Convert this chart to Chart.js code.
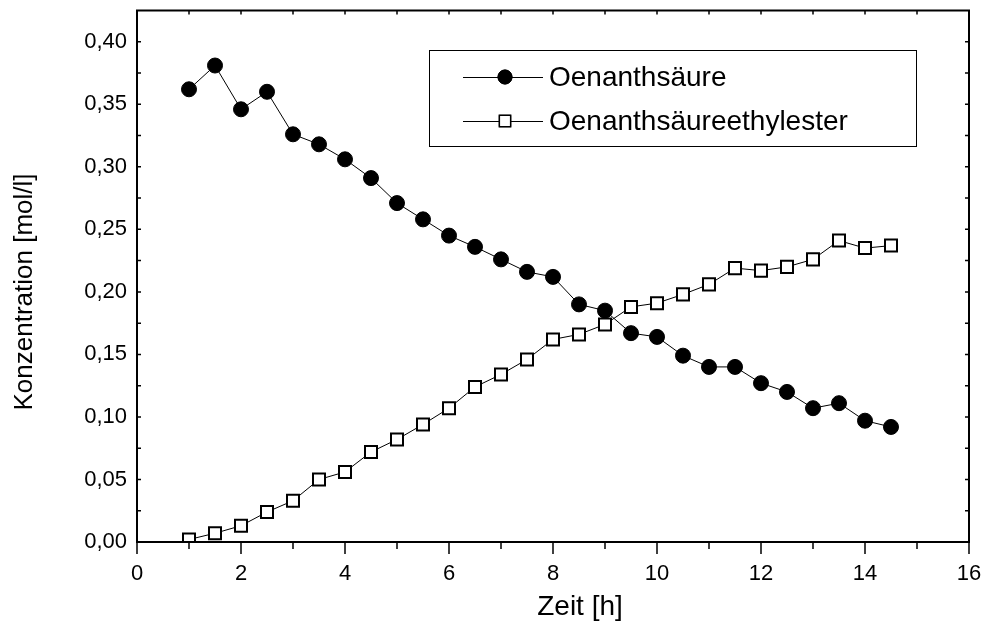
<!DOCTYPE html>
<html>
<head>
<meta charset="utf-8">
<script src="https://cdn.jsdelivr.net/npm/chart.js@4/dist/chart.umd.min.js"></script>
<style>
  html, body { margin: 0; padding: 0; background: #fff; }
  #wrap { width: 983px; height: 632px; }
</style>
</head>
<body>
<div id="wrap"><canvas id="c" width="983" height="632"></canvas></div>
<script>
// Time in hours
const zeit = [1, 1.5, 2, 2.5, 3, 3.5, 4, 4.5, 5, 5.5, 6, 6.5, 7, 7.5, 8, 8.5, 9, 9.5, 10, 10.5, 11, 11.5, 12, 12.5, 13, 13.5, 14, 14.5];
// Concentration of heptanoic acid [mol/l]
const oenanthsaeure = [0.362, 0.381, 0.346, 0.360, 0.326, 0.318, 0.306, 0.291, 0.271, 0.258, 0.245, 0.236, 0.226, 0.216, 0.212, 0.190, 0.185, 0.167, 0.164, 0.149, 0.140, 0.140, 0.127, 0.120, 0.107, 0.111, 0.097, 0.092];
// Concentration of ethyl heptanoate [mol/l]
const ester = [0.002, 0.007, 0.013, 0.024, 0.033, 0.050, 0.056, 0.072, 0.082, 0.094, 0.107, 0.124, 0.134, 0.146, 0.162, 0.166, 0.174, 0.188, 0.191, 0.198, 0.206, 0.219, 0.217, 0.220, 0.226, 0.241, 0.235, 0.237];

const seriesNames = ['Oenanthsäure', 'Oenanthsäureethylester'];
const xTitle = 'Zeit [h]';
const yTitle = 'Konzentration [mol/l]';
const xTicks = [0, 2, 4, 6, 8, 10, 12, 14, 16];
const xMinorTicks = [1, 3, 5, 7, 9, 11, 13, 15];
const yTicks = [0, 0.05, 0.10, 0.15, 0.20, 0.25, 0.30, 0.35, 0.40];
const yMinorTicks = [0.025, 0.075, 0.125, 0.175, 0.225, 0.275, 0.325, 0.375];

const FONT = 'Liberation Sans, Arial, sans-serif';

const toPoints = (xs, ys) => xs.map((x, i) => ({ x: x, y: ys[i] }));

// Frame, tick marks, axis titles and legend box
const framePlugin = {
  id: 'frame',
  afterDraw(chart) {
    const { ctx, chartArea: a, scales } = chart;
    const xs = scales.x, ys = scales.y;
    ctx.save();
    ctx.strokeStyle = '#000';
    ctx.lineWidth = 2;
    ctx.strokeRect(a.left, a.top, a.right - a.left, a.bottom - a.top);

    ctx.lineWidth = 1.5;
    ctx.beginPath();
    // bottom axis: outward ticks
    xTicks.forEach(v => { const p = xs.getPixelForValue(v); ctx.moveTo(p, a.bottom); ctx.lineTo(p, a.bottom + 12); });
    xMinorTicks.forEach(v => { const p = xs.getPixelForValue(v); ctx.moveTo(p, a.bottom); ctx.lineTo(p, a.bottom + 7); });
    // top axis: inward ticks
    xTicks.concat(xMinorTicks).forEach(v => { const p = xs.getPixelForValue(v); ctx.moveTo(p, a.top); ctx.lineTo(p, a.top + 4); });
    // left and right axes: inward ticks
    yTicks.concat(yMinorTicks).forEach(v => {
      const p = ys.getPixelForValue(v);
      ctx.moveTo(a.left, p); ctx.lineTo(a.left + 4, p);
      ctx.moveTo(a.right, p); ctx.lineTo(a.right - 4, p);
    });
    ctx.stroke();

    // axis titles
    ctx.fillStyle = '#000';
    ctx.textAlign = 'center';
    ctx.textBaseline = 'middle';
    ctx.font = '28px ' + FONT;
    ctx.fillText(xTitle, 580, 607);
    ctx.font = '26px ' + FONT;
    ctx.save();
    ctx.translate(25, 292);
    ctx.rotate(-Math.PI / 2);
    ctx.fillText(yTitle, 0, 0);
    ctx.restore();

    // legend
    const box = { l: 429, t: 50, r: 916, b: 146 };
    ctx.lineWidth = 1;
    ctx.strokeStyle = '#000';
    ctx.strokeRect(box.l + 0.5, box.t + 0.5, box.r - box.l, box.b - box.t);
    const rows = [77, 121];
    chart.data.datasets.forEach((ds, i) => {
      const y = rows[i];
      ctx.beginPath();
      ctx.strokeStyle = '#000';
      ctx.lineWidth = 1;
      ctx.moveTo(463, y + 0.5); ctx.lineTo(543, y + 0.5);
      ctx.stroke();
      Chart.helpers.drawPoint(ctx, {
        pointStyle: ds.pointStyle, radius: ds.pointStyle === 'rect' ? 8 : 7,
        borderWidth: ds.pointStyle === 'rect' ? 1.5 : 1, rotation: 0
      }, 505, y);
      ctx.fillStyle = ds.pointBackgroundColor;
      ctx.strokeStyle = '#000';
      ctx.lineWidth = ds.pointStyle === 'rect' ? 1.5 : 1;
      ctx.fill();
      ctx.stroke();
      ctx.fillStyle = '#000';
      ctx.font = '28px ' + FONT;
      ctx.textBaseline = 'middle';
      ctx.textAlign = 'left';
      ctx.fillText(ds.label, 549, y + 1);
    });
    ctx.restore();
  }
};

new Chart(document.getElementById('c'), {
  type: 'scatter',
  data: {
    datasets: [
      {
        label: seriesNames[0],
        data: toPoints(zeit, oenanthsaeure),
        showLine: true,
        borderColor: '#000',
        borderWidth: 1,
        pointStyle: 'circle',
        pointRadius: 7.5,
        pointBackgroundColor: '#000',
        pointBorderColor: '#000',
        pointBorderWidth: 1
      },
      {
        label: seriesNames[1],
        data: toPoints(zeit, ester),
        showLine: true,
        borderColor: '#000',
        borderWidth: 1,
        pointStyle: 'rect',
        pointRadius: 8.5,
        pointBackgroundColor: '#fff',
        pointBorderColor: '#000',
        pointBorderWidth: 2
      }
    ]
  },
  options: {
    responsive: false,
    animation: false,
    layout: { padding: { top: 8, right: 14, left: 0, bottom: 0 } },
    plugins: { legend: { display: false }, tooltip: { enabled: false } },
    scales: {
      x: {
        type: 'linear',
        min: 0, max: 16,
        afterFit(s) { s.height = 90; s.paddingLeft = 0; s.paddingRight = 0; },
        afterBuildTicks(s) { s.ticks = xTicks.map(v => ({ value: v })); },
        grid: { display: false, drawTicks: false },
        border: { display: false },
        ticks: { color: '#000', font: { family: FONT, size: 22 }, padding: 19, maxRotation: 0 }
      },
      y: {
        type: 'linear',
        min: 0, max: 0.425,
        afterFit(s) { s.width = 137; s.paddingTop = 0; s.paddingBottom = 0; },
        afterBuildTicks(s) { s.ticks = yTicks.map(v => ({ value: v })); },
        grid: { display: false, drawTicks: false },
        border: { display: false },
        ticks: {
          color: '#000', font: { family: FONT, size: 22 }, padding: 10,
          callback: v => v.toFixed(2).replace('.', ',')
        }
      }
    }
  },
  plugins: [framePlugin]
});
</script>
</body>
</html>
